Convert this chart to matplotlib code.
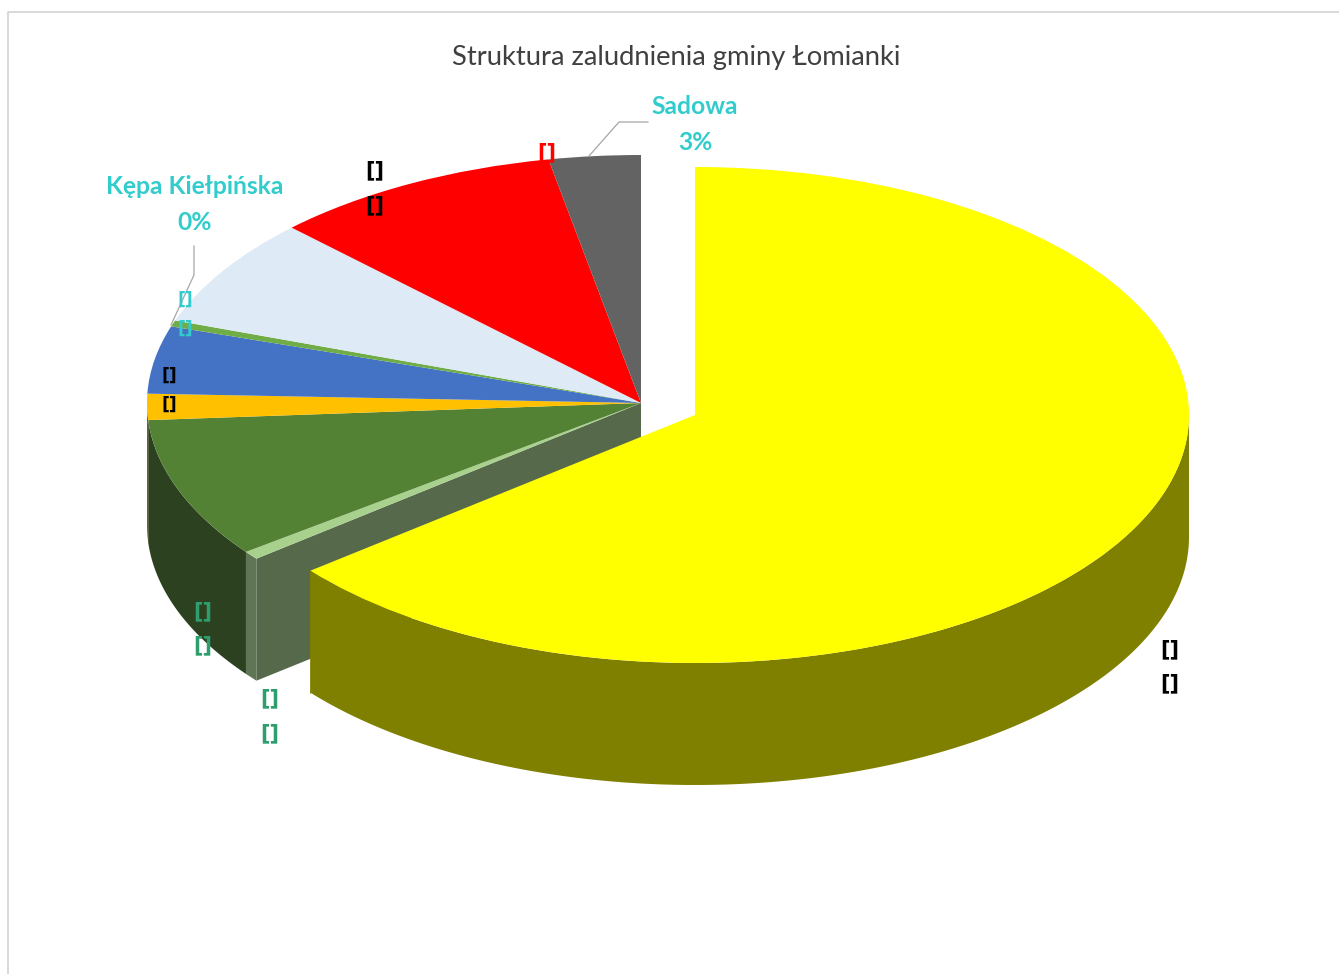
import numpy as np
import matplotlib
matplotlib.use('Agg')
import matplotlib.pyplot as plt
from matplotlib.patches import Wedge
from matplotlib.transforms import Affine2D

plt.rcParams['font.family'] = ['Lato', 'DejaVu Sans']

# slice shares in percent, clockwise from 12 o'clock
slices = ['Glowna', 'Slice 2', 'Slice 3', 'Slice 4', 'Slice 5',
          'Kępa Kiełpińska', 'Slice 7', 'Slice 8', 'Sadowa']
shares = [64.2, 0.55, 9.15, 1.7, 4.4, 0.4, 7.1, 9.5, 3.0]
top_colors = ['#FFFF00', '#A9D18E', '#548235', '#FFC000', '#4472C4',
              '#70AD47', '#DEEAF6', '#FF0000', '#636363']
side_colors = ['#808000', '#5F7556', '#2C411F', '#806000', '#223962',
               '#38572A', '#6F757B', '#800000', '#323232']

title = 'Struktura zaludnienia gminy Łomianki'
TEAL = '#33CCCC'
GREEN = '#2E9E6E'

RX, RY, DEPTH = 494, 248, 122
CENTER = (641, 403)
CENTER_OUT = (695, 415)

fig = plt.figure(figsize=(13.39, 9.74), dpi=100)
ax = fig.add_axes([0, 0, 1, 1])
ax.set_xlim(0, 1339)
ax.set_ylim(974, 0)
ax.axis('off')

# chart frame, runs off the right and bottom of the picture
ax.plot([8, 8, 1339], [974, 12, 12], color='#D0D0D0', lw=1.1)


def rim(center, a0, a1):
    t = np.radians(np.linspace(a0, a1, 200))
    return center[0] + RX * np.sin(t), center[1] - RY * np.cos(t)


def outer_wall(center, a0, a1, color, z):
    # only the front half of the rim is visible
    a0, a1 = max(a0, 90), min(a1, 270)
    if a1 <= a0:
        return
    x, y = rim(center, a0, a1)
    ax.fill(np.r_[x, x[::-1]], np.r_[y, y[::-1] + DEPTH], color=color, lw=0, zorder=z)


def top_face(center, a0, a1, color, z):
    tr = Affine2D().scale(RX, -RY).translate(*center) + ax.transData
    ax.add_patch(Wedge((0, 0), 1, 90 - a1, 90 - a0, facecolor=color, lw=0, transform=tr, zorder=z))


edges = np.r_[0, np.cumsum(shares)] / sum(shares) * 360

# radial wall left open by the pulled-out slice
wx, wy = rim(CENTER, edges[1], edges[1])
ax.fill([CENTER[0], wx[0], wx[0], CENTER[0]],
        [CENTER[1], wy[0], wy[0] + DEPTH, CENTER[1] + DEPTH],
        color='#566A4B', lw=0, zorder=2)

for i in range(1, len(shares)):
    outer_wall(CENTER, edges[i], edges[i + 1], side_colors[i], 1)
    top_face(CENTER, edges[i], edges[i + 1], top_colors[i], 3)

# pulled-out slice
outer_wall(CENTER_OUT, edges[0], edges[1], side_colors[0], 4)
x0, y0 = rim(CENTER_OUT, edges[1], edges[1])
ax.plot([x0[0], x0[0]], [y0[0], y0[0] + DEPTH], color=side_colors[0], lw=0.5, zorder=4)
top_face(CENTER_OUT, edges[0], edges[1], top_colors[0], 5)

ax.text(676, 58, title, ha='center', va='center', fontsize=19.7, color='#404040', zorder=10)

# leader lines
ax.plot([194, 194, 171], [246, 275, 325], color='#A6A6A6', lw=0.9, zorder=8)
ax.plot([648, 619, 589], [122, 122, 156], color='#A6A6A6', lw=0.9, zorder=8)

# named data labels
names = [('Sadowa', 695, 106), ('3%', 695, 142),
         ('Kępa Kiełpińska', 195, 187), ('0%', 195, 222)]
for txt, x, y in names:
    ax.text(x, y, txt, ha='center', va='center', fontsize=17.7, fontweight='bold', color=TEAL, zorder=10)

# empty placeholder labels of the original
marks = [
    (1170, 649, 'black', 15), (1170, 683, 'black', 15),
    (203, 611, GREEN, 15), (203, 645, GREEN, 15),
    (270, 698, GREEN, 15), (270, 733, GREEN, 15),
    (375, 170, 'black', 15), (375, 205, 'black', 15),
    (547, 152, '#FF0000', 15),
    (185, 300, TEAL, 12.5), (185, 329, TEAL, 12.5),
    (169, 376, 'black', 12.5), (169, 405, 'black', 12.5),
]
for x, y, col, size in marks:
    ax.text(x, y, '[]', ha='center', va='center', fontsize=size, fontweight='bold',
            family='DejaVu Sans', color=col, zorder=10)

fig.savefig('out.png', dpi=100, facecolor='white')
